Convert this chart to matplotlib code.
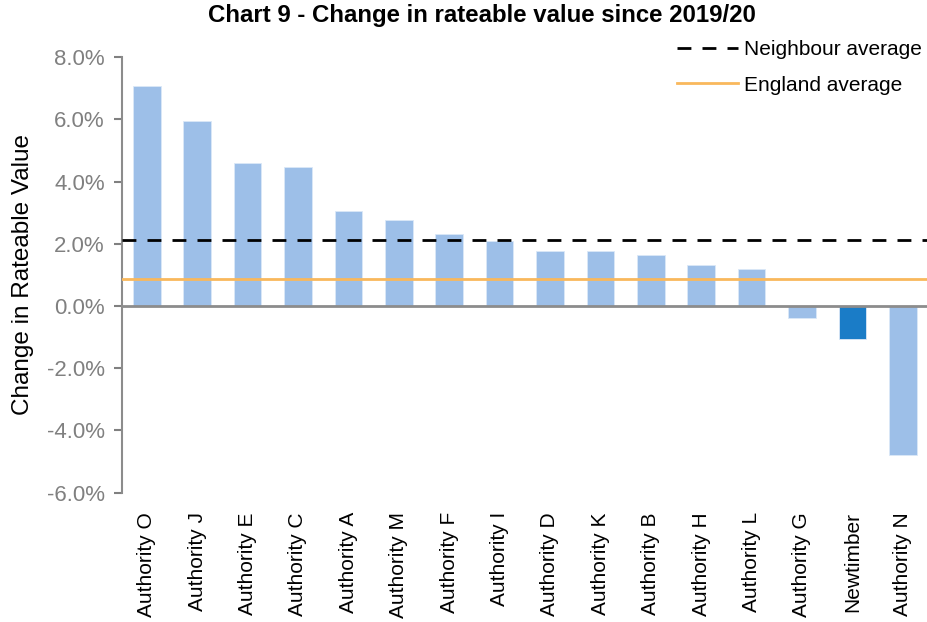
import matplotlib
matplotlib.use("Agg")
import matplotlib.pyplot as plt
from matplotlib.ticker import FuncFormatter

plt.rcParams['font.family'] = ['Liberation Sans', 'DejaVu Sans']

# data
authorities = ["Authority O", "Authority J", "Authority E", "Authority C", "Authority A",
               "Authority M", "Authority F", "Authority I", "Authority D", "Authority K",
               "Authority B", "Authority H", "Authority L", "Authority G", "Newtimber",
               "Authority N"]
change_pct = [7.07, 5.96, 4.61, 4.48, 3.05, 2.76, 2.30, 2.08, 1.78, 1.78,
              1.63, 1.33, 1.18, -0.39, -1.05, -4.78]
neighbour_avg = 2.13
england_avg = 0.86
highlight = "Newtimber"

bar_colors = ["#1a7cc7" if a == highlight else "#9dbfe8" for a in authorities]

fig = plt.figure(figsize=(9.28, 6.22), dpi=100)
ax = fig.add_axes([0.131, 0.208, 0.869, 0.700])

x = range(len(authorities))
ax.bar(x, change_pct, width=0.55, color=bar_colors, edgecolor="#dbe8f7", linewidth=0.6, zorder=2)
ax.axhline(0, color="#8c8c8c", linewidth=2, zorder=3)
ax.axhline(neighbour_avg, color="black", linestyle=(0, (5, 4)), linewidth=2, zorder=4,
           label="Neighbour average")
ax.axhline(england_avg, color="#f9b85c", linewidth=2, zorder=4, label="England average")

ax.set_xlim(-0.5, len(authorities) - 0.5)
ax.set_ylim(-6, 8)
ax.set_yticks(range(-6, 9, 2))
ax.yaxis.set_major_formatter(FuncFormatter(lambda v, p: f"{v:.1f}%"))
ax.tick_params(axis="y", colors="#808080", labelsize=16, length=6, width=1.5, pad=6)
ax.set_xticks(list(x))
ax.set_xticklabels(authorities, rotation=90, fontsize=15, color="black")
ax.tick_params(axis="x", length=0, pad=14)

for s in ["top", "right", "bottom"]:
    ax.spines[s].set_visible(False)
ax.spines["left"].set_color("#8c8c8c")
ax.spines["left"].set_linewidth(1.5)

ax.set_ylabel("Change in Rateable Value", fontsize=17.5, color="black")
ax.yaxis.set_label_coords(-0.109, 0.5)
fig.suptitle("Chart 9 - Change in rateable value since 2019/20", fontsize=17.3,
             fontweight="bold", x=0.519, y=0.993)

ax.legend(loc="upper right", bbox_to_anchor=(1.016, 1.083), frameon=False, fontsize=15,
          handlelength=2.95, handletextpad=0.3, labelspacing=0.8)

fig.savefig("out.png", dpi=100)
